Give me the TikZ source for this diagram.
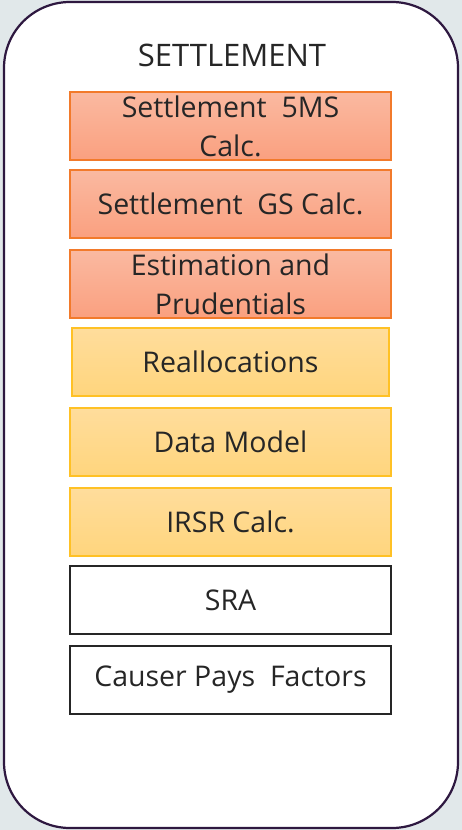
\documentclass[tikz,border=0pt]{standalone}
\usepackage{fontspec}
\setmainfont{Open Sans}
\usetikzlibrary{positioning}

\definecolor{pagebg}{HTML}{E1E8EA}
\definecolor{frameline}{HTML}{2E1840}
\definecolor{txt}{HTML}{262626}
\definecolor{orangeline}{HTML}{F27A2B}
\definecolor{orangetop}{HTML}{FAB9A1}
\definecolor{orangebot}{HTML}{FAA07F}
\definecolor{yellowline}{HTML}{FFC125}
\definecolor{yellowtop}{HTML}{FFDD9C}
\definecolor{yellowbot}{HTML}{FFD57D}

\tikzset{
  layer/.style={minimum width=321pt, minimum height=68pt, inner sep=0pt,
    align=center, text=txt, font=\fontsize{28.5}{39}\selectfont},
  redlayer/.style={layer, draw=orangeline, line width=2.2pt,
    top color=orangetop, bottom color=orangebot},
  amberlayer/.style={layer, draw=yellowline, line width=2.2pt,
    top color=yellowtop, bottom color=yellowbot},
  plainlayer/.style={layer, draw=txt, line width=2.6pt, fill=white},
}

\begin{document}
\begin{tikzpicture}[x=1pt, y=-1pt]
    \fill[pagebg] (0,0) rectangle (462,830);
    \useasboundingbox (0,0) rectangle (462,830);
    \draw[frameline, line width=2.2pt, fill=white, rounded corners=66pt] (4,2) rectangle (458,828);
    \node[text=txt, font=\fontsize{31}{39}\selectfont] (title) at (232,55) {SETTLEMENT};
    % stacked layers
    \node[redlayer] (fivems) at (230.5,126) {Settlement\ \ 5MS\\Calc.};
    \node[redlayer] (gscalc) at (230.5,204) {Settlement\ \ GS Calc.};
    \node[redlayer] (estim) at (230.5,284) {Estimation and\\Prudentials};
    \node[amberlayer, minimum width=317pt] (realloc) at (230.5,362) {Reallocations};
    \node[amberlayer] (datamodel) at (230.5,442) {Data Model};
    \node[amberlayer] (irsr) at (230.5,522) {IRSR Calc.};
    \node[plainlayer] (sra) at (230.5,600) {SRA};
    \node[plainlayer] (causer) at (230.5,680) {Causer Pays\ \ Factors};
\end{tikzpicture}
\end{document}
